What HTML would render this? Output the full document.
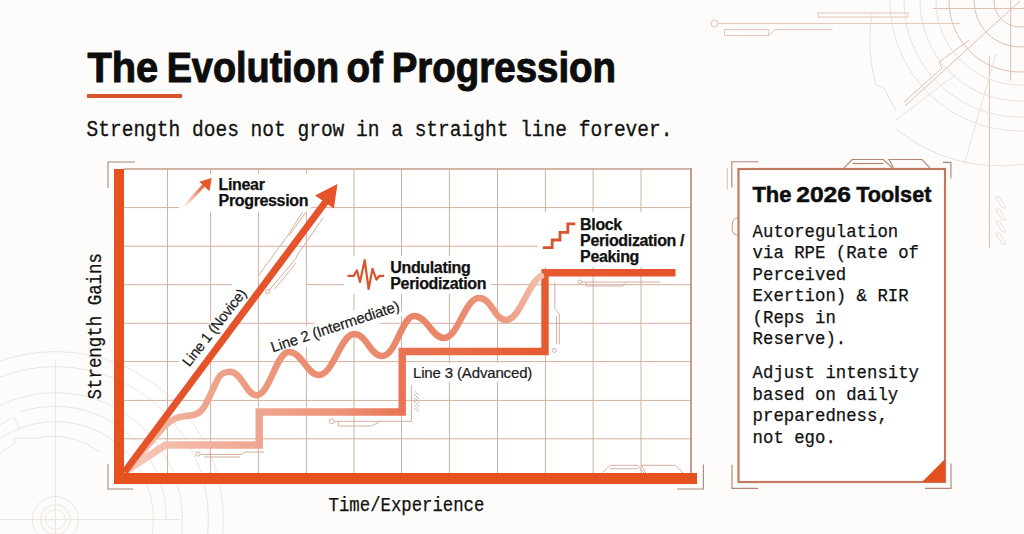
<!DOCTYPE html>
<html><head><meta charset="utf-8">
<style>
html,body{margin:0;padding:0;width:1024px;height:534px;overflow:hidden;background:#fdfcfa;}
svg{display:block;position:absolute;left:0;top:0;}
.sans{font-family:"Liberation Sans",sans-serif;}
.mono{font-family:"Liberation Mono",monospace;}
</style></head>
<body>
<svg width="1024" height="534" viewBox="0 0 1024 534">
<defs>
  <linearGradient id="g3" x1="124" y1="0" x2="690" y2="0" gradientUnits="userSpaceOnUse">
    <stop offset="0" stop-color="#f6cbbc"/>
    <stop offset="0.134" stop-color="#f2b4a2"/>
    <stop offset="0.311" stop-color="#ee9c83"/>
    <stop offset="0.382" stop-color="#ec9278"/>
    <stop offset="0.488" stop-color="#e97453"/>
    <stop offset="0.744" stop-color="#e65a30"/>
    <stop offset="1" stop-color="#e4522a"/>
  </linearGradient>
  <linearGradient id="g2" x1="124" y1="0" x2="545" y2="0" gradientUnits="userSpaceOnUse">
    <stop offset="0" stop-color="#f5c6b6"/>
    <stop offset="0.15" stop-color="#efaa95"/>
    <stop offset="0.4" stop-color="#eb9075"/>
    <stop offset="0.75" stop-color="#e98468"/>
    <stop offset="0.9" stop-color="#ec9a80"/>
    <stop offset="1" stop-color="#f4c3b2"/>
  </linearGradient>
  <linearGradient id="ga" x1="184" y1="207" x2="212" y2="178" gradientUnits="userSpaceOnUse">
    <stop offset="0" stop-color="#e6572c" stop-opacity="0"/>
    <stop offset="0.6" stop-color="#e6572c" stop-opacity="0.8"/>
    <stop offset="1" stop-color="#e6572c"/>
  </linearGradient>
</defs>

<!-- background decorations -->
<g fill="none" stroke="#ddb8a8" stroke-width="0.9">
  <circle cx="1020" cy="1" r="26"/>
  <circle cx="1020" cy="1" r="46"/>
  <circle cx="1020" cy="1" r="71"/>
  <path d="M933 8.5 H1024"/>
  <path d="M1020 1 L905 106"/>
  <path d="M969 40 L939 62 L942 68 L904 102"/>
  <path d="M989.4 56 V248.6"/>
  <path d="M1010.7 0 V81"/>
</g>
<g fill="none" stroke="#e9ddd6" stroke-width="0.9">
  <circle cx="1020" cy="1" r="84"/>
  <circle cx="1020" cy="1" r="100"/>
  <circle cx="1020" cy="1" r="116"/>
  <circle cx="1020" cy="1" r="130"/>
  <path d="M872 14 A163 163 0 0 0 876 85 L884 88 L896 111"/>
  <path d="M895 128 A163 163 0 0 0 1024 164"/>
  <path d="M996 54 L964 165"/>
  <path d="M955 75 L896 120"/>
  <path d="M995.5 197.0 L999.5 197.0 L1006 208.0 L1002 208.0 Z"/>
  <path d="M995.5 209.0 L999.5 209.0 L1006 220.0 L1002 220.0 Z"/>
  <path d="M995.5 221.0 L999.5 221.0 L1006 232.0 L1002 232.0 Z"/>
  <path d="M995.5 233.0 L999.5 233.0 L1006 244.0 L1002 244.0 Z"/>
</g>

<!-- top circuit -->
<g fill="none" stroke="#e3c4b6" stroke-width="1">
  <circle cx="714.6" cy="23.6" r="3.5"/>
  <line x1="718" y1="23.6" x2="960" y2="23.6"/>
  <rect x="818" y="13" width="90" height="4"/>
  <path d="M724.5 29.5 H768.7 V35.4 H724.5 Z M768.7 35.4 L775 29.5 H832.6"/>
</g>

<!-- chart -->
<rect x="124" y="169" width="567" height="304" fill="#ffffff"/>
<g fill="none" stroke="#e9e2dc" stroke-width="0.9">
  <circle cx="55.4" cy="519.6" r="10"/>
  <circle cx="55.4" cy="519.6" r="15"/>
  <circle cx="55.4" cy="519.6" r="23"/>
  <path d="M-30 519.6 A85.4 85.4 0 0 1 15 443 L14 438 L42 438 V436.6 A83 83 0 0 1 100 452"/>
  <circle cx="55.4" cy="519.6" r="98"/>
  <path d="M-40 440 A111 111 0 0 1 -10 428"/>
  <path d="M-40 470 A111 111 0 0 1 14 417 L20 430"/>
  <path d="M20 412 A111 111 0 0 1 166 520"/>
  <circle cx="55.4" cy="519.6" r="127"/>
  <circle cx="55.4" cy="519.6" r="153"/>
  <circle cx="55.4" cy="519.6" r="168"/>
  <line x1="55.4" y1="360" x2="55.4" y2="534"/>
  <line x1="0" y1="519.6" x2="180" y2="519.6"/>
</g>
<g stroke="#d6af9e" stroke-width="1" fill="none">
  <line x1="124" y1="207.6" x2="691" y2="207.6"/>
  <line x1="124" y1="246.2" x2="691" y2="246.2"/>
  <line x1="124" y1="284.7" x2="232" y2="284.7"/>
  <line x1="307" y1="284.7" x2="691" y2="284.7"/>
  <line x1="124" y1="323.3" x2="691" y2="323.3"/>
  <line x1="124" y1="361.6" x2="691" y2="361.6"/>
  <line x1="124" y1="400.4" x2="691" y2="400.4"/>
  <line x1="124" y1="438.8" x2="691" y2="438.8"/>
  <line x1="167.5" y1="169" x2="167.5" y2="473"/>
  <line x1="210.6" y1="169" x2="210.6" y2="473"/>
  <line x1="258.4" y1="169" x2="258.4" y2="473"/>
  <line x1="306.4" y1="169" x2="306.4" y2="473"/>
  <line x1="354" y1="169" x2="354" y2="473"/>
  <line x1="401.5" y1="169" x2="401.5" y2="473"/>
  <line x1="449.4" y1="169" x2="449.4" y2="473"/>
  <line x1="497.5" y1="169" x2="497.5" y2="473"/>
  <line x1="545.4" y1="169" x2="545.4" y2="473"/>
  <line x1="593.1" y1="169" x2="593.1" y2="473"/>
  <line x1="641" y1="169" x2="641" y2="473"/>
</g>
<line x1="124" y1="169" x2="692" y2="169" stroke="#c59c8b" stroke-width="1.5"/>
<line x1="691" y1="168.2" x2="691" y2="473" stroke="#c0917f" stroke-width="1.8"/>

<!-- label backgrounds -->
<g fill="#ffffff">
  <rect x="179" y="174" width="132" height="37.5"/>
  <rect x="344" y="256" width="147" height="38"/>
  <rect x="538" y="212" width="152" height="55"/>
  <rect x="410" y="363" width="125" height="19"/>
  <rect x="-52" y="-13" width="104" height="20" transform="translate(218.5,332) rotate(-52)"/>
  <rect x="-68" y="-13" width="136" height="20" transform="translate(336,330) rotate(-18)"/>
</g>

<!-- circuits inside chart -->
<g fill="none" stroke="#cfa595" stroke-width="0.9">
  <path d="M258.4 275.7 L285.4 238.7 L287.9 235.3 L302.3 212.5"/>
  <path d="M289 236 L305.6 212.5"/>
  <circle cx="267.7" cy="291.7" r="2.2"/>
  <path d="M269.4 290 L295.5 258.9 L298 253.8 L323.3 217.6"/>
  <path d="M274.4 289.2 L296 263"/>
  <circle cx="331.8" cy="421.3" r="2.5"/>
  <path d="M334.5 421.3 H411.4 V385.3"/>
  <path d="M338.4 422 V426 H371.8 L378.9 422"/>
  <circle cx="198" cy="454" r="2.2"/>
  <path d="M201 454.5 H241 L245 452 H264"/>
  <path d="M204 457 H240"/>
  <circle cx="579.6" cy="281.9" r="1.9"/>
  <path d="M582 282 H660"/>
  <path d="M586 282 V286 H623 L627 282"/>
  <path d="M554.8 282.6 V308.4 L559.3 314 V344.4"/>
  <path d="M556.5 316 V344"/>
  <circle cx="554.2" cy="350.4" r="2"/>
  <path d="M602.3 473 L610.1 465.3 H637.5 L643.8 473"/>
  <path d="M609.6 468.7 H637.5"/>
  <path d="M645.8 473 L641.4 465.3 H675.6 L682.9 473"/>
</g>
<g stroke="#c4a496" stroke-width="0.8">
  <line x1="414.5" y1="391" x2="418.5" y2="395"/>
  <line x1="414" y1="394" x2="419" y2="399"/>
  <line x1="414" y1="397.5" x2="419.5" y2="403"/>
  <line x1="414" y1="401" x2="419.5" y2="406.5"/>
  <line x1="414" y1="404.5" x2="419" y2="409.5"/>
  <line x1="414.5" y1="408" x2="418.5" y2="412"/>
</g>

<!-- Line 3 step -->
<path d="M126 471 L165.5 445 H259.2 V412 H402.2 V351.5 H545 V272.8 H675.5" fill="none" stroke="url(#g3)" stroke-width="7.4" stroke-linejoin="miter"/>
<!-- Line 2 wavy -->
<path d="M126 471 C140 455 152 440 162 429 C168 422 173 418.5 180 417 C186 415.6 191 415.8 195 414.6 C199 413.4 201.5 410.8 204 407.2 C207 402.5 215 384.5 218.7 377.5 C220.7 373.7 226 371.8 230 371.8 C242 371.8 246 395.2 256.5 395.2 C270 395 276 352 289 352 C302 352 307 375 319 375 C333 375 341 334 354 334 C367 334 370 356 382 356 C396 356 402 316 414 316 C427 316 432 338 444 338 C458 338 465 298 479 298 C492 298 494 320 506 320 C520 320 528 283 541 276" fill="none" stroke="url(#g2)" stroke-width="6.5" stroke-linecap="round"/>
<!-- Line 1 arrow -->
<line x1="124.5" y1="472" x2="327" y2="200" stroke="#e4532a" stroke-width="7"/>
<path d="M337.5 184 L315 195.4 L324.3 201.7 L333.9 208.4 Z" fill="#e4532a"/>

<!-- axes -->
<rect x="114" y="169" width="10" height="315" fill="#e5511f"/>
<rect x="114" y="473" width="583" height="11" fill="#e5511f"/>

<!-- chart brackets -->
<g fill="none" stroke="#a8887c" stroke-width="1.1">
  <path d="M108 188 V162 H135"/>
  <path d="M108 464 V489 H133"/>
  <path d="M677 489 H703.4 V464.6"/>
</g>

<!-- icons -->
<path d="M184 206.6 L207 181.8" stroke="url(#ga)" stroke-width="3.2"/>
<path d="M211.7 178 L199.3 181.7 L209.5 191.2 Z" fill="#e6572c"/>
<polyline points="347.5,275.8 353.75,275.8 356.9,270.3 360,282 364.7,260.2 368.6,289 372.5,268.75 376.4,279.7 379.5,275.8 384.2,275.8" fill="none" stroke="#d9532c" stroke-width="2.2" stroke-linejoin="round"/>
<polyline points="542.8,247.6 552.2,247.6 552.2,240 560,240 560,232.3 567.8,232.3 567.8,223.8 575.3,223.8" fill="none" stroke="#d9532c" stroke-width="2.8"/>

<!-- chart labels -->
<g class="sans" font-weight="bold" font-size="16" fill="#111" stroke="#111" stroke-width="0.25">
  <text x="218.6" y="190.0" letter-spacing="-0.35">Linear</text>
  <text x="218.6" y="206.2" letter-spacing="-0.35">Progression</text>
  <text x="390.3" y="273.0" letter-spacing="-0.35">Undulating</text>
  <text x="390.3" y="289.3" letter-spacing="-0.35">Periodization</text>
  <text x="580.1" y="230.3" letter-spacing="-0.35">Block</text>
  <text x="580.1" y="246.3" letter-spacing="-0.35">Periodization /</text>
  <text x="580.1" y="261.9" letter-spacing="-0.35">Peaking</text>
</g>
<g class="sans" font-size="14" fill="#1a1a1a" stroke="#1a1a1a" stroke-width="0.2">
  <text x="413" y="378" font-size="15" letter-spacing="-0.15">Line 3 (Advanced)</text>
  <text transform="translate(189.3,367.6) rotate(-52)" font-size="14.6" letter-spacing="-0.3">Line 1 (Novice)</text>
  <text transform="translate(272.8,352.5) rotate(-18.3)" font-size="15" letter-spacing="-0.2">Line 2 (Intermediate)</text>
</g>

<!-- axis labels -->
<text class="mono" font-size="21" fill="#111" stroke="#111" stroke-width="0.25" transform="translate(100.9,399.5) rotate(-90)" textLength="146.5" lengthAdjust="spacingAndGlyphs">Strength Gains</text>
<text class="mono" font-size="20" fill="#111" stroke="#111" stroke-width="0.25" x="328.6" y="510.5" textLength="155.8" lengthAdjust="spacingAndGlyphs">Time/Experience</text>

<!-- title -->
<g class="sans" font-size="42" font-weight="bold" fill="#0d0d0d" stroke="#0d0d0d" stroke-width="1">
  <text x="87.4" y="81.9" textLength="70.9" lengthAdjust="spacingAndGlyphs">The</text>
  <text x="166.63" y="81.9" textLength="172.4" lengthAdjust="spacingAndGlyphs">Evolution</text>
  <text x="346.41" y="81.9" textLength="36.4" lengthAdjust="spacingAndGlyphs">of</text>
  <text x="391.69" y="81.9" textLength="224.4" lengthAdjust="spacingAndGlyphs">Progression</text>
</g>
<rect x="87" y="94" width="95" height="4" fill="#d9532c"/>
<text class="mono" x="86.5" y="136" font-size="22.4" fill="#111" stroke="#111" stroke-width="0.3" textLength="586" lengthAdjust="spacingAndGlyphs">Strength does not grow in a straight line forever.</text>

<!-- panel -->
<rect x="738.5" y="169" width="206.5" height="313" fill="#ffffff" stroke="#bf7a5f" stroke-width="2.2"/>
<path d="M922 482 L945 482 L945 459 Z" fill="#e5501f"/>
<g fill="none" stroke="#b48573" stroke-width="1.15">
  <path d="M731.8 187.5 V161.7 H758.4"/>
  <path d="M943 162.4 H950.9 V178.6"/>
  <path d="M732 464.8 V488.4 H758.2"/>
  <path d="M925 488.4 H951 V463.5"/>
  <path d="M844 167.8 L852.2 159.5 H883.3 L892.2 167.8"/>
  <path d="M852.8 163.5 H883.3"/>
  <path d="M893.5 167.8 L889 159.5 H922 L929.7 167.8"/>
</g>
<line x1="727.3" y1="167.6" x2="727.3" y2="189.8" stroke="#d9c0b5" stroke-width="1"/>
<path d="M738 217.3 Q732.3 219.5 732.3 224 V230.5 Q732.3 234 738 236" fill="none" stroke="#c9937f" stroke-width="1"/>
<g class="sans" font-size="22.5" font-weight="bold" fill="#0d0d0d" stroke="#0d0d0d" stroke-width="0.5">
  <text x="752.43" y="202" textLength="39.04" lengthAdjust="spacingAndGlyphs">The</text>
  <text x="796.29" y="202" textLength="54.67" lengthAdjust="spacingAndGlyphs">2026</text>
  <text x="856.13" y="202" textLength="75.22" lengthAdjust="spacingAndGlyphs">Toolset</text>
</g>
<g class="mono" font-size="19.2" fill="#111" stroke="#111" stroke-width="0.25">
  <text x="752.6" y="236.7" textLength="145.6" lengthAdjust="spacingAndGlyphs">Autoregulation</text>
  <text x="752.6" y="258.2" textLength="166.4" lengthAdjust="spacingAndGlyphs">via RPE (Rate of</text>
  <text x="752.6" y="279.7" textLength="93.6" lengthAdjust="spacingAndGlyphs">Perceived</text>
  <text x="752.6" y="301.2" textLength="156" lengthAdjust="spacingAndGlyphs">Exertion) &amp; RIR</text>
  <text x="752.6" y="322.7" textLength="83.2" lengthAdjust="spacingAndGlyphs">(Reps in</text>
  <text x="752.6" y="344.2" textLength="93.6" lengthAdjust="spacingAndGlyphs">Reserve).</text>
  <text x="752.6" y="378.3" textLength="166.4" lengthAdjust="spacingAndGlyphs">Adjust intensity</text>
  <text x="752.6" y="399.8" textLength="145.6" lengthAdjust="spacingAndGlyphs">based on daily</text>
  <text x="752.6" y="421.3" textLength="135.2" lengthAdjust="spacingAndGlyphs">preparedness,</text>
  <text x="752.6" y="442.8" textLength="83.2" lengthAdjust="spacingAndGlyphs">not ego.</text>
</g>
</svg>
</body></html>
